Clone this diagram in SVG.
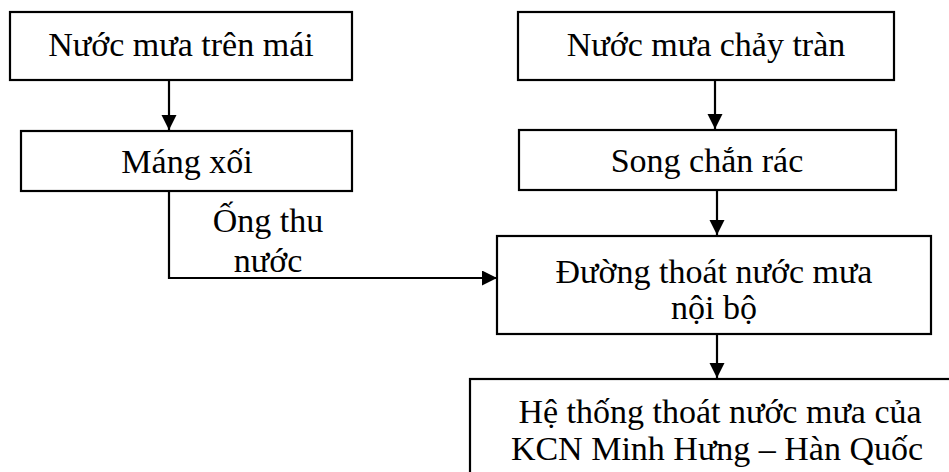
<svg xmlns="http://www.w3.org/2000/svg" width="949" height="472" viewBox="0 0 949 472">
<defs>
<marker id="ah" markerUnits="userSpaceOnUse" markerWidth="16" markerHeight="16" refX="15" refY="7.5" orient="auto">
<path d="M0,0 L15,7.5 L0,15 Z" fill="#000"/>
</marker>
<style>
.box{fill:#fff;stroke:#000;stroke-width:2.2}
.t{font-family:"Liberation Serif","Times New Roman",serif;font-size:34px;fill:#000;text-anchor:middle}
.c{fill:none;stroke:#000;stroke-width:2.2}
</style>
</defs>
<rect width="949" height="472" fill="#fff"/>
<g id="n1"><rect class="box" x="10" y="12" width="342" height="68"/><text class="t" x="181" y="56">Nước mưa trên mái</text></g>
<g id="n2"><rect class="box" x="21" y="131" width="331" height="60"/><text class="t" x="187" y="173">Máng xối</text></g>
<g id="n3"><rect class="box" x="518" y="12" width="376" height="68"/><text class="t" x="706" y="56">Nước mưa chảy tràn</text></g>
<g id="n4"><rect class="box" x="519" y="130" width="377" height="60"/><text class="t" x="707" y="172">Song chắn rác</text></g>
<g id="n5"><rect class="box" x="497" y="236" width="434" height="98"/><text class="t" x="714" y="283">Đường thoát nước mưa</text><text class="t" x="714" y="319">nội bộ</text></g>
<g id="n6"><rect class="box" x="470" y="379" width="500" height="120"/><text class="t" x="720" y="423">Hệ thống thoát nước mưa của</text><text class="t" x="717" y="460">KCN Minh Hưng – Hàn Quốc</text></g>
<g id="connectors">
<line class="c" x1="169" y1="80" x2="169" y2="130" marker-end="url(#ah)"/>
<line class="c" x1="715" y1="80" x2="715" y2="129" marker-end="url(#ah)"/>
<line class="c" x1="717" y1="190" x2="717" y2="235" marker-end="url(#ah)"/>
<line class="c" x1="717" y1="334" x2="717" y2="378" marker-end="url(#ah)"/>
<path class="c" d="M169,191 L169,278 L497,278" marker-end="url(#ah)"/>
<text class="t" x="268" y="232">Ống thu</text>
<text class="t" x="268" y="272">nước</text>
</g>
</svg>
